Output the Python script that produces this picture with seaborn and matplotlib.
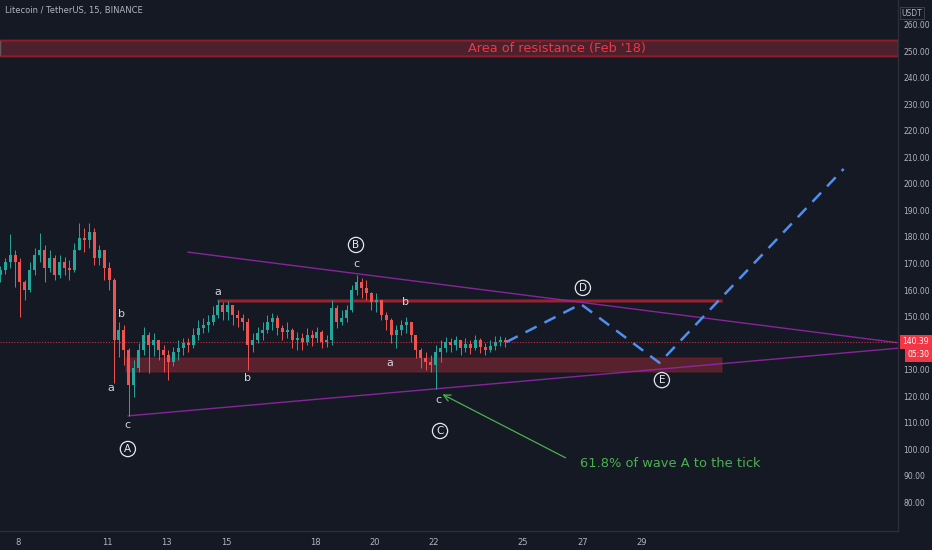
import numpy as np
import pandas as pd
import matplotlib
matplotlib.use("Agg")
import matplotlib.pyplot as plt
import matplotlib.transforms as mtransforms
import seaborn as sns

# LTC/USDT, traced off the 15m chart and rebuilt as 4h candles
start_day = 7.4
candles_per_day = 6
first_open = 165.7
close = [167.5, 170.6, 173.2, 170.6, 163.0, 160.0, 167.5, 173.2, 175.1, 168.3,
         172.1, 165.7, 170.6, 168.3, 167.5, 175.1, 179.6, 178.9, 181.9, 172.1,
         175.1, 168.3, 163.8, 141.1, 144.9, 137.4, 124.2, 130.6, 137.4, 143.0,
         139.2, 141.1, 137.4, 135.5, 132.8, 136.6, 138.1, 140.0, 139.2, 143.0,
         145.7, 146.8, 147.9, 150.6, 154.3, 151.7, 154.3, 150.6, 149.4, 147.9,
         139.2, 141.1, 143.8, 144.9, 147.9, 149.4, 145.7, 144.2, 144.9, 141.1,
         141.9, 140.4, 143.0, 141.9, 144.2, 140.4, 141.1, 153.2, 147.9, 149.4,
         152.5, 160.0, 163.0, 160.8, 158.9, 155.5, 156.2, 150.6, 148.7, 143.0,
         144.9, 146.8, 147.9, 143.0, 137.4, 134.3, 132.8, 131.7, 136.6, 138.1,
         140.4, 139.2, 141.1, 138.1, 139.6, 138.1, 141.1, 138.5, 137.4, 138.9,
         140.4, 141.1, 140.4]
high = [169.1, 172.1, 181.1, 175.1, 172.1, 163.8, 170.6, 175.9, 181.5, 177.0,
        175.1, 173.2, 173.2, 172.5, 171.3, 177.7, 185.3, 183.4, 185.3, 183.4,
        177.0, 173.2, 170.6, 164.5, 147.9, 146.8, 138.0, 133.6, 140.0, 146.0,
        144.2, 143.8, 141.1, 139.2, 137.4, 138.5, 141.1, 141.9, 141.9, 145.7,
        148.7, 149.4, 150.6, 154.0, 156.2, 155.5, 155.9, 154.0, 152.5, 150.9,
        149.4, 143.8, 146.0, 147.9, 150.6, 151.3, 150.6, 146.8, 147.9, 145.7,
        144.2, 143.8, 145.7, 144.9, 146.0, 144.9, 143.0, 156.2, 154.3, 152.5,
        154.3, 161.9, 165.7, 164.5, 163.8, 159.2, 158.9, 156.2, 151.7, 149.4,
        146.8, 148.7, 149.8, 147.9, 143.0, 138.1, 136.6, 135.5, 139.2, 141.1,
        142.3, 141.9, 142.6, 141.1, 141.9, 141.1, 143.0, 141.9, 140.0, 141.1,
        142.6, 142.6, 142.3]
low = [163.0, 166.0, 168.3, 161.1, 149.8, 156.2, 159.2, 165.7, 170.6, 163.0,
       166.8, 163.8, 164.5, 165.7, 163.8, 166.8, 175.1, 174.3, 175.9, 169.4,
       169.4, 163.8, 160.0, 124.9, 134.7, 131.7, 112.5, 119.6, 129.1, 135.5,
       128.7, 135.1, 133.6, 129.1, 126.0, 131.3, 133.6, 135.5, 136.6, 138.1,
       141.1, 143.8, 144.2, 146.8, 149.4, 148.7, 148.7, 146.8, 146.0, 144.9,
       129.8, 136.6, 140.0, 141.1, 143.8, 144.9, 143.0, 141.1, 141.9, 138.1,
       137.4, 137.4, 139.2, 138.9, 140.4, 138.1, 138.5, 139.2, 145.7, 146.8,
       147.9, 151.7, 158.1, 157.0, 156.2, 152.5, 151.7, 148.7, 144.9, 140.0,
       138.1, 143.0, 143.8, 140.4, 134.3, 130.6, 129.8, 129.1, 122.6, 132.8,
       136.6, 136.6, 137.4, 135.5, 136.6, 135.9, 137.4, 136.2, 135.5, 136.6,
       137.4, 138.9, 138.5]

# projected path D -> E -> breakout
proj_day = [24.45, 26.95, 29.6, 35.8]
proj_price = [140.4, 154.7, 132.5, 205.7]

# triangle trendlines
upper_day = [13.72, 37.7]
upper_price = [174.3, 140.0]
lower_day = [11.70, 37.7]
lower_price = [112.5, 138.1]

# zones
resist_lo, resist_hi = 248.3, 254.3
top_zone = (14.73, 31.70, 155.3, 156.3)
bottom_zone = (11.64, 31.70, 129.1, 134.3)

last_price = 140.39
countdown = "05:30"
price_ticks = [80, 90, 100, 110, 120, 130, 150, 160, 170, 180, 190, 200,
               210, 220, 230, 240, 250, 260]
day_ticks = [8, 11, 13, 15, 18, 20, 22, 25, 27, 29]

# wave labels: text, day, price, circled
wave_labels = [
    ("a", 11.13, 123.0, False), ("b", 11.47, 150.9, False),
    ("c", 11.70, 109.0, False), ("A", 11.70, 100.0, True),
    ("a", 14.73, 159.2, False), ("b", 15.74, 126.8, False),
    ("B", 19.38, 177.0, True), ("c", 19.41, 169.8, False),
    ("b", 21.06, 155.5, False), ("a", 20.53, 132.4, False),
    ("c", 22.14, 118.5, False), ("C", 22.21, 106.8, True),
    ("D", 27.02, 160.8, True), ("E", 29.68, 126.0, True),
]

bg = "#151924"
txt = "#b2b5be"
up_col = "#26a69a"
dn_col = "#ef5350"
red = "#f23645"

sns.set_theme(style="dark", rc={"axes.facecolor": bg, "figure.facecolor": bg})
plt.rcParams["font.family"] = ["DejaVu Sans"]

fig = plt.figure(figsize=(9.32, 5.5), dpi=100)
ax = fig.add_axes([0, 19 / 550, 898 / 932, 531 / 550])
ax.set_facecolor(bg)

# candles
df = pd.DataFrame({"close": close, "high": high, "low": low})
df["open"] = df["close"].shift(1).fillna(first_open)
df["day"] = start_day + np.arange(len(df)) / candles_per_day
df["high"] = df[["high", "open", "close"]].max(axis=1)
df["low"] = df[["low", "open", "close"]].min(axis=1)
colors = np.where(df["close"] >= df["open"], up_col, dn_col)
ax.vlines(df["day"], df["low"], df["high"], colors=colors, lw=0.7, zorder=3)
body_lo = df[["open", "close"]].min(axis=1)
body_h = (df["close"] - df["open"]).abs().clip(lower=0.4)
ax.bar(df["day"], body_h, bottom=body_lo, width=0.6 / candles_per_day,
       color=colors, linewidth=0, zorder=3)

# resistance zones
ax.axhspan(resist_lo, resist_hi, facecolor=red, alpha=0.25, zorder=1)
ax.axhline(resist_lo, color="#8c1d27", lw=1, zorder=1)
ax.axhline(resist_hi, color="#8c1d27", lw=1, zorder=1)
ax.text(26.15, 251.3, "Area of resistance (Feb '18)", color=red, fontsize=9.3,
        ha="center", va="center", zorder=4)
ax.fill_between([top_zone[0], top_zone[1]], top_zone[2], top_zone[3],
                facecolor=red, alpha=0.5, edgecolor="#b3202d", lw=1.3, zorder=2)
ax.fill_between([bottom_zone[0], bottom_zone[1]], bottom_zone[2], bottom_zone[3],
                facecolor=red, alpha=0.3, edgecolor="#a61e2a", lw=1.2, zorder=2)

# trendlines and projection
sns.lineplot(x=upper_day, y=upper_price, ax=ax, color="#9c27b0", lw=1,
             alpha=0.85, zorder=2)
sns.lineplot(x=lower_day, y=lower_price, ax=ax, color="#9c27b0", lw=1,
             alpha=0.85, zorder=2)
sns.lineplot(x=proj_day, y=proj_price, ax=ax, color="#4f8ff0", lw=1.8,
             linestyle=(0, (5, 3.5)), sort=False, zorder=4)

# last price line
ax.axhline(last_price, color=red, lw=0.8, ls=(0, (1, 1.5)), alpha=0.8, zorder=2)

# wave labels
for t, d, p, circ in wave_labels:
    if circ:
        ax.text(d, p, t, color="#e6e8ee", fontsize=7.5, ha="center", va="center",
                zorder=5, bbox=dict(boxstyle="circle,pad=0.25", fc=bg,
                                    ec="#e6e8ee", lw=0.9))
    else:
        ax.text(d, p, t, color="#d1d4dc", fontsize=8, ha="center", va="center",
                zorder=5)

# note
ax.annotate("", xy=(22.21, 121.1), xytext=(26.52, 96.2),
            arrowprops=dict(arrowstyle="->", color="#4caf50", lw=0.9))
ax.text(26.92, 94.7, "61.8% of wave A to the tick", color="#4caf50",
        fontsize=9.4, ha="left", va="center")

ax.set_xlim(7.394, 37.63)
ax.set_ylim(69.06, 269.43)
ax.set_xticks(day_ticks)
ax.set_xticklabels([str(d) for d in day_ticks])
ax.set_yticks(price_ticks)
ax.set_yticklabels([f"{p:.2f}" for p in price_ticks])
ax.yaxis.tick_right()
ax.tick_params(axis="y", length=0, pad=4, labelsize=5.5, colors=txt)
ax.tick_params(axis="x", length=0, pad=5, labelsize=6, colors=txt)
ax.grid(False)
for s in ["top", "left"]:
    ax.spines[s].set_visible(False)
for s in ["right", "bottom"]:
    ax.spines[s].set_color("#2a2e39")
    ax.spines[s].set_linewidth(1)
ax.set_xlabel("")
ax.set_ylabel("")

# price axis badges
tr = mtransforms.blended_transform_factory(ax.transAxes, ax.transData)
ax.text(1.005, last_price, f"{last_price:.2f}", transform=tr, color="white",
        fontsize=5.5, ha="left", va="center", clip_on=False,
        bbox=dict(boxstyle="square,pad=0.35", fc=red, ec="none"))
ax.text(1.011, 135.5, countdown, transform=tr, color="white", fontsize=5.5,
        ha="left", va="center", clip_on=False,
        bbox=dict(boxstyle="square,pad=0.35", fc=red, ec="none"))
fig.text(912 / 932, 1 - 13 / 550, "USDT", color=txt, fontsize=5.5,
         ha="center", va="center",
         bbox=dict(boxstyle="square,pad=0.25", fc=bg, ec="#434651", lw=0.6))
fig.text(5 / 932, 1 - 11 / 550, "Litecoin / TetherUS, 15, BINANCE", color=txt,
         fontsize=6, ha="left", va="center")

fig.savefig("out.png", dpi=100, facecolor=bg)
